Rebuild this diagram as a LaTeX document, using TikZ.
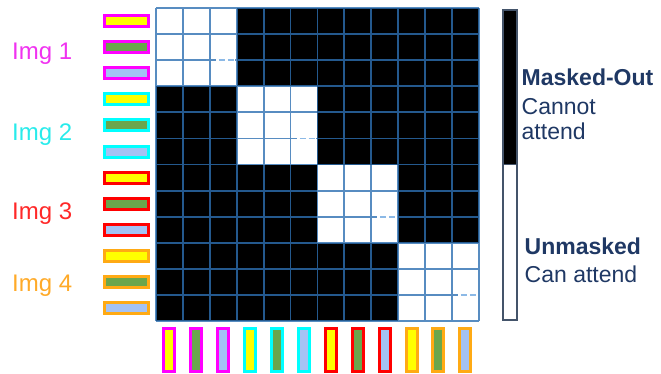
\documentclass[tikz,border=0pt]{standalone}
\usepackage{fontspec}
\setmainfont{Liberation Sans}
\definecolor{gridblue}{RGB}{46,112,178}
\definecolor{dashblue}{RGB}{140,185,230}
\definecolor{navy}{RGB}{31,56,100}
\definecolor{barline}{RGB}{68,84,106}
\definecolor{cmag}{RGB}{255,0,255}
\definecolor{ccyan}{RGB}{0,255,255}
\definecolor{cred}{RGB}{255,0,0}
\definecolor{corange}{RGB}{255,170,20}
\definecolor{lmag}{RGB}{240,50,240}
\definecolor{lcyan}{RGB}{40,235,235}
\definecolor{lred}{RGB}{255,40,40}
\definecolor{lorange}{RGB}{255,170,40}
\definecolor{fyellow}{RGB}{255,255,0}
\definecolor{fgreen}{RGB}{106,166,76}
\definecolor{fblue}{RGB}{164,194,244}
\tikzset{
  gridline/.style={draw=gridblue, line width=1.8pt, draw opacity=0.8},
  htok/.style={draw, line width=3pt, inner sep=0pt, minimum width=44pt, minimum height=11pt},
  vtok/.style={draw, line width=3pt, inner sep=0pt, minimum width=11pt, minimum height=43pt},
  imglabel/.style={anchor=base west, inner sep=0pt, font=\fontsize{24}{27}\selectfont},
  legtext/.style={anchor=base west, inner sep=0pt, text=navy, font=\fontsize{23}{26}\selectfont},
  legbold/.style={legtext, font=\fontsize{23}{26}\selectfont\bfseries},
}
\begin{document}
\begin{tikzpicture}[x=1pt,y=-1pt]
\useasboundingbox (0,0) rectangle (661,374);
\def\xo{156}\def\yo{8}\def\cw{26.9}\def\ch{26.1}
% matrix background
\fill[black] (\xo,\yo) rectangle (\xo+12*\cw,\yo+12*\ch);
\foreach \b in {0,...,3}{
  \fill[white] (\xo+3*\b*\cw,\yo+3*\b*\ch) rectangle ++(3*\cw,3*\ch);
}
% grid lines (one path)
\draw[gridline] \foreach \k in {0,...,12}{
  (\xo+\k*\cw,\yo) -- (\xo+\k*\cw,\yo+12*\ch)
  (\xo,\yo+\k*\ch) -- (\xo+12*\cw,\yo+\k*\ch)
};
% ellipsis dashes inside each white block
\foreach \b in {0,...,3}{
  \pgfmathsetmacro\xl{\xo+(3*\b+2)*\cw}
  \pgfmathsetmacro\yl{\yo+(3*\b+2)*\ch}
  \fill[white] (\xl+6,\yl-1.2) rectangle (\xl+\cw-1.3,\yl+1.2);
  \draw[dashblue, line width=1.8pt, dash pattern=on 6pt off 3pt] (\xl+9,\yl) -- (\xl+\cw-1.5,\yl);
}
% row tokens (left) and column tokens (bottom)
\foreach \g/\bc in {0/cmag,1/ccyan,2/cred,3/corange}{
  \foreach \t/\fc in {0/fyellow,1/fgreen,2/fblue}{
    \pgfmathtruncatemacro\n{3*\g+\t}
    \node[htok, draw=\bc, fill=\fc] (r\n) at (126.5,\yo+\n*\ch+0.5*\ch) {};
    \node[vtok, draw=\bc, fill=\fc] (c\n) at (\xo+\n*\cw+0.5*\cw,349.7) {};
  }
}
% image labels
\node[imglabel, text=lmag] (img1) at (12,60) {Img 1};
\node[imglabel, text=lcyan] (img2) at (12,141) {Img 2};
\node[imglabel, text=lred] (img3) at (12,219.5) {Img 3};
\node[imglabel, text=lorange] (img4) at (12,291) {Img 4};
% legend bar
\fill[black] (503,10) rectangle (517,165);
\draw[barline, line width=1.3pt] (503,10) rectangle (517,320);
\draw[barline, line width=1pt] (503,165) -- (517,165);
% legend texts
\node[legbold] (mo) at (521.5,86) {Masked-Out};
\node[legtext] (co) at (521.5,115) {Cannot};
\node[legtext] (at) at (521.5,140) {attend};
\node[legbold] (um) at (524.5,254) {Unmasked};
\node[legtext] (ca) at (524.5,282.5) {Can attend};
\end{tikzpicture}
\end{document}
